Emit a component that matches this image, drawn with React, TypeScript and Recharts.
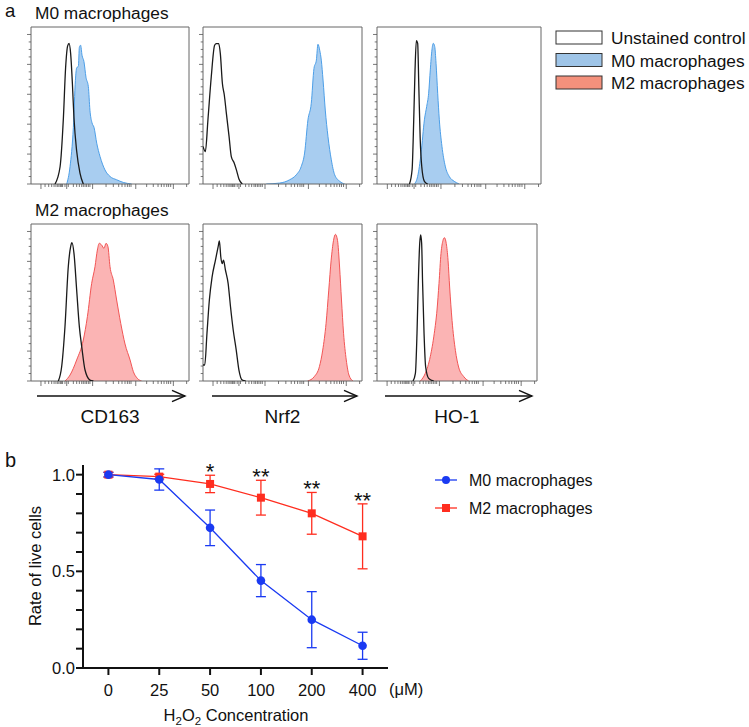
import React from 'react';
import {
  ComposedChart, Area, Line, XAxis, YAxis, ReferenceArea,
  LineChart, ErrorBar, LabelList,
} from 'recharts';

const FONT = '"Liberation Sans", Arial, Helvetica, sans-serif';

// ---- panel a: flow histograms (x = % of axis width, y = % of box height)
type Pt = [number, number];

const CD163_M0_CTRL: Pt[] = [[15.2, 0], [18.4, 11], [20.5, 42], [21.9, 74], [23.2, 88], [24.1, 89.5], [25.1, 83], [26.2, 64], [27.2, 42], [28.9, 21], [31, 7], [33.1, 0]];
const CD163_M0_STAIN: Pt[] = [[22.6, 0], [24.7, 11], [26.8, 36], [28.1, 66], [28.9, 74], [30, 75], [30.6, 87], [31.4, 88.4], [32.3, 82], [33.5, 78], [34.8, 68], [36.3, 62], [37.3, 47], [38.6, 39], [39.9, 36], [41.6, 26], [43.7, 17.5], [46.8, 9], [50, 4.8], [54.2, 2.7], [58.4, 1], [63.7, 0]];
const NRF2_M0_CTRL: Pt[] = [[0, 23.9], [1.5, 20.7], [3.1, 40.8], [5.2, 68.3], [7.3, 88.4], [8.4, 89.4], [9.9, 89.4], [10.9, 83], [12.2, 64], [13.4, 56.7], [14.7, 45], [16.4, 30.2], [17.8, 17.5], [19.5, 13.7], [21, 9], [22.6, 3.2], [24.7, 0]];
const NRF2_M0_STAIN: Pt[] = [[39.8, 0], [48.2, 0.6], [54.5, 2.7], [58.7, 5.9], [61.8, 11.2], [63.9, 19.7], [66, 40.8], [68.1, 51.4], [69.8, 73.6], [71.3, 78.9], [72.3, 89], [73.4, 85.2], [74.4, 78.9], [75.5, 66.2], [76.9, 47.1], [78.6, 30.2], [80.7, 15.4], [82.8, 5.9], [86, 1.7], [89.1, 0]];
const HO1_M0_CTRL: Pt[] = [[19.8, 0], [21.4, 9.1], [22.4, 41], [23.2, 72.9], [24, 91.3], [24.8, 89.6], [25.5, 62], [26.3, 30], [27.3, 11], [28.9, 1.7], [30.9, 0]];
const HO1_M0_STAIN: Pt[] = [[22.8, 0], [24.8, 4.9], [26.9, 19.7], [28.9, 40.9], [30.3, 49.4], [31.5, 57.8], [32.5, 72.7], [33.5, 85.4], [34.3, 89.6], [35.2, 87.5], [36, 76.9], [37, 57.8], [38, 40.9], [39.6, 24], [41.6, 11.4], [44, 4.9], [47.1, 1.7], [50.1, 0]];

const CD163_M2_CTRL: Pt[] = [[17.3, 0], [19.4, 9.1], [21.5, 34.6], [23.6, 72.8], [25.1, 85.6], [25.9, 88.1], [27.2, 81.3], [28.9, 58], [30.6, 34.6], [32.1, 21.9], [34.2, 7], [37.3, 0.6], [39.5, 0]];
const CD163_M2_STAIN: Pt[] = [[21.5, 0], [24.7, 3.8], [28.9, 13.4], [33.1, 26.1], [35.7, 41], [38.4, 62.2], [40.5, 72.8], [42, 83.4], [43.2, 87.7], [44.7, 86.6], [46.2, 84.5], [47.5, 87.7], [48.7, 85.6], [50, 72.8], [52.1, 64.3], [54.2, 51.6], [56.8, 36.7], [59.5, 23.6], [62.7, 13.4], [64.8, 5.9], [67.3, 1.7], [70, 0]];
const NRF2_M2_CTRL: Pt[] = [[0, 10.2], [1.1, 10.2], [2.5, 30.4], [4, 51.6], [5.7, 66.2], [7.8, 76.9], [9.5, 85.4], [10.3, 89.2], [11.2, 79], [12, 74.7], [12.9, 76.9], [14.1, 70.7], [15.8, 62.2], [17.3, 47.3], [19, 32.5], [20.9, 19.7], [22.6, 7], [24.7, 0.6], [26.8, 0]];
const NRF2_M2_STAIN: Pt[] = [[65.8, 0], [70, 2.8], [73.2, 9.1], [75.3, 19.7], [77.4, 36.7], [79.1, 57.9], [80.6, 77], [82.1, 89.6], [83.3, 93.4], [84.6, 89.6], [85.9, 72.6], [87.1, 51.6], [88.4, 30.4], [90.1, 13.4], [91.8, 3.8], [94.3, 0]];
const HO1_M2_CTRL: Pt[] = [[22.5, 0], [24, 4.9], [25, 30.4], [25.8, 62.2], [26.7, 87.7], [27.3, 93], [27.9, 87.7], [28.5, 62.2], [29.4, 30.4], [30.4, 9.1], [32.3, 1.7], [35.4, 0]];
const HO1_M2_STAIN: Pt[] = [[27.1, 0], [30.2, 4.9], [33.3, 15.5], [35.8, 30.4], [37.5, 45.2], [38.75, 62.2], [40, 81.3], [41.25, 89.6], [42.1, 91.3], [43.3, 87.5], [44.4, 76.9], [45.4, 59.9], [46.9, 38.6], [49, 19.5], [51, 8.9], [54.2, 2.8], [57.3, 0]];

const MARKERS = ['CD163', 'Nrf2', 'HO-1'];
const ROW_TITLES = ['M0 macrophages', 'M2 macrophages'];

const HIST_X_MAJOR = [6.3, 22.6, 39, 66.3, 90.1];
const HIST_X_MINOR = [8.9, 11.2, 13.1, 14.6, 15.8, 16.9, 17.7, 18.6, 19.4, 20, 21.5, 23.6, 26.8, 28.9, 30.6, 32.1, 33.1, 34.2, 35.2, 36.3, 37.3, 47.5, 52.1, 55.5, 57.6, 59.5, 61, 62.2, 63.3, 73.2, 77.4, 80.4, 82.5, 84.2, 85.9, 87.1, 88.4, 98.5];
const HIST_Y_MAJOR = [0, 19.05, 38.1, 57.14, 76.19, 95.24];
const HIST_Y_MINOR = [4.76, 9.52, 14.29, 23.81, 28.57, 33.33, 42.86, 47.62, 52.38, 61.9, 66.67, 71.43, 80.95, 85.71, 90.48];

const HIST_LEGEND = [
  { label: 'Unstained control', fill: '#ffffff' },
  { label: 'M0 macrophages', fill: '#9fc5e8' },
  { label: 'M2 macrophages', fill: '#f4917c' },
];

const BLUE_FILL = '#a8cdf0';
const BLUE_LINE = '#4d9fe8';
const RED_FILL = '#fbb4b4';
const RED_LINE = '#f25555';

// ---- panel b: survival after H2O2
const CONC = ['0', '25', '50', '100', '200', '400'];
const M0_MEAN = [1.0, 0.975, 0.725, 0.452, 0.25, 0.115];
const M0_SD = [0.012, 0.055, 0.092, 0.083, 0.145, 0.07];
const M2_MEAN = [1.0, 0.99, 0.952, 0.881, 0.8, 0.681];
const M2_SD = [0.012, 0.012, 0.045, 0.09, 0.108, 0.168];
const SIG = ['', '', '*', '**', '**', '**'];
const Y_TICKS = [0, 0.1, 0.2, 0.3, 0.4, 0.5, 0.6, 0.7, 0.8, 0.9, 1.0];
const Y_LABELED = [0, 0.5, 1.0];

const BLUE = '#1a3af2';
const RED = '#ff2d1f';

const SURV_LEGEND = [
  { label: 'M0 macrophages', color: BLUE, shape: 'circle' },
  { label: 'M2 macrophages', color: RED, shape: 'square' },
];

function mergeCurves(ctrl: Pt[], stain: Pt[]) {
  const rows = [
    ...ctrl.map(([x, y]) => ({ x, ctrl: y, stain: null as number | null })),
    ...stain.map(([x, y]) => ({ x, ctrl: null as number | null, stain: y })),
  ];
  return rows.sort((a, b) => a.x - b.x);
}

const XTick = (p: any) => {
  const big = HIST_X_MAJOR.includes(p.payload.value);
  return <line x1={p.x} x2={p.x} y1={p.y} y2={p.y + (big ? 5 : 3)} stroke="#555" strokeWidth={0.8} />;
};

const YTick = (p: any) => {
  const big = HIST_Y_MAJOR.includes(p.payload.value);
  return <line x1={p.x - (big ? 4 : 2.3)} x2={p.x} y1={p.y} y2={p.y} stroke="#555" strokeWidth={0.8} />;
};

function Histogram({ box, ctrl, stain, stroke, fill }: any) {
  const [x0, y0, x1, y1] = box;
  const padL = 8, padR = 6, padT = 4, padB = 10;
  return (
    <div style={{ position: 'absolute', left: x0 - padL, top: y0 - padT }}>
      <ComposedChart
        width={x1 - x0 + padL + padR}
        height={y1 - y0 + padT + padB}
        data={mergeCurves(ctrl, stain)}
        margin={{ top: padT, right: padR, bottom: 0, left: 0 }}
      >
        <XAxis type="number" dataKey="x" domain={[0, 100]} ticks={[...HIST_X_MAJOR, ...HIST_X_MINOR]}
          interval={0} height={padB} axisLine={false} tickLine={false} tickSize={0} tickMargin={0}
          tick={XTick} allowDataOverflow />
        <YAxis type="number" domain={[0, 100]} ticks={[...HIST_Y_MAJOR, ...HIST_Y_MINOR]}
          interval={0} width={padL} axisLine={false} tickLine={false} tickSize={0} tickMargin={0}
          tick={YTick} allowDataOverflow />
        <Area type="monotone" dataKey="stain" stroke={stroke} strokeWidth={1} fill={fill} fillOpacity={1}
          connectNulls dot={false} activeDot={false} isAnimationActive={false} />
        <Line type="monotone" dataKey="ctrl" stroke="#1a1a1a" strokeWidth={1.3} connectNulls
          dot={false} activeDot={false} isAnimationActive={false} />
        <ReferenceArea x1={0} x2={100} y1={0} y2={100} fill="none" stroke="#666" strokeWidth={1} ifOverflow="visible" />
      </ComposedChart>
    </div>
  );
}

const survival = CONC.map((c, i) => ({
  i,
  m0: M0_MEAN[i],
  m0Sd: M0_SD[i],
  m2: M2_MEAN[i],
  m2Sd: M2_SD[i],
  sig: SIG[i],
  sigY: SIG[i] ? M2_MEAN[i] + M2_SD[i] : null,
}));

const SquareDot = (p: any) => {
  if (p.cx == null || p.cy == null) return null;
  return <rect x={p.cx - 4} y={p.cy - 4} width={8} height={8} fill={RED} />;
};

const renderSig = (p: any) => {
  if (!p.value) return null;
  const x = p.x ?? p.viewBox?.x;
  const y = p.y ?? p.viewBox?.y;
  if (x == null || y == null) return null;
  return (
    <text x={x} y={y + 4} textAnchor="middle" fontSize={22} fontFamily={FONT} fill="#111">{p.value}</text>
  );
};

function Survival() {
  return (
    <div style={{ position: 'absolute', left: 0, top: 440 }}>
      <LineChart width={440} height={287} data={survival} margin={{ top: 25, right: 52, bottom: 0, left: 0 }}>
        <XAxis type="number" dataKey="i" domain={[-0.5, 5.5]} ticks={[0, 1, 2, 3, 4, 5]} interval={0}
          tickFormatter={(v: number) => CONC[v]} height={59}
          axisLine={{ stroke: '#111', strokeWidth: 2 }} tickLine={{ stroke: '#111', strokeWidth: 2 }}
          tickSize={7} tickMargin={9} tick={{ fill: '#111', fontSize: 16.5, fontFamily: FONT }} />
        <YAxis type="number" domain={[0, 1.05]} ticks={Y_TICKS} interval={0} width={83}
          tickFormatter={(v: number) => (Y_LABELED.includes(v) ? v.toFixed(1) : '')}
          axisLine={{ stroke: '#111', strokeWidth: 2 }} tickLine={{ stroke: '#111', strokeWidth: 2 }}
          tickSize={7} tickMargin={1} tick={{ fill: '#111', fontSize: 16.5, fontFamily: FONT }} allowDataOverflow />
        <Line type="linear" dataKey="m2" stroke={RED} strokeWidth={1.3} dot={SquareDot} activeDot={false} isAnimationActive={false}>
          <ErrorBar dataKey="m2Sd" direction="y" width={5} stroke={RED} strokeWidth={1.3} />
        </Line>
        <Line type="linear" dataKey="m0" stroke={BLUE} strokeWidth={1.3} dot={{ r: 4.3, fill: BLUE, stroke: BLUE, strokeWidth: 0 }} activeDot={false} isAnimationActive={false}>
          <ErrorBar dataKey="m0Sd" direction="y" width={5} stroke={BLUE} strokeWidth={1.3} />
        </Line>
        <Line type="linear" dataKey="sigY" stroke="none" dot={false} activeDot={false} isAnimationActive={false}>
          <LabelList dataKey="sig" content={renderSig} />
        </Line>
      </LineChart>
    </div>
  );
}

const COLS = [[31, 189], [203, 362], [377, 541]];
const COLS_BOTTOM = [[31, 189], [203, 362], [377, 537]];
const ROWS = [[27, 184], [224, 381]];
const ARROWS = [[37, 185], [212, 357], [385, 532]];

export default function App() {
  const top = [
    [CD163_M0_CTRL, CD163_M0_STAIN],
    [NRF2_M0_CTRL, NRF2_M0_STAIN],
    [HO1_M0_CTRL, HO1_M0_STAIN],
  ];
  const bottom = [
    [CD163_M2_CTRL, CD163_M2_STAIN],
    [NRF2_M2_CTRL, NRF2_M2_STAIN],
    [HO1_M2_CTRL, HO1_M2_STAIN],
  ];
  // fixed to the viewport so the body margin and any clipping of #root do not apply
  return (
    <div style={{ position: 'fixed', left: 0, top: 0, width: 749, height: 727, background: '#fff', fontFamily: FONT, overflow: 'hidden' }}>
      {top.map(([c, s], k) => (
        <Histogram key={'t' + k} box={[COLS[k][0], ROWS[0][0], COLS[k][1], ROWS[0][1]]} ctrl={c} stain={s} stroke={BLUE_LINE} fill={BLUE_FILL} />
      ))}
      {bottom.map(([c, s], k) => (
        <Histogram key={'b' + k} box={[COLS_BOTTOM[k][0], ROWS[1][0], COLS_BOTTOM[k][1], ROWS[1][1]]} ctrl={c} stain={s} stroke={RED_LINE} fill={RED_FILL} />
      ))}
      <Survival />
      <svg width={749} height={727} style={{ position: 'absolute', left: 0, top: 0, pointerEvents: 'none' }} fontFamily={FONT}>
        <text x={5} y={16.5} fontSize={18.5} fill="#111">a</text>
        <text x={5} y={467} fontSize={20} fill="#111">b</text>
        <text x={35} y={18.5} fontSize={17.3} fill="#111">{ROW_TITLES[0]}</text>
        <text x={35} y={216} fontSize={17.3} fill="#111">{ROW_TITLES[1]}</text>

        {HIST_LEGEND.map((e, k) => (
          <g key={e.label}>
            <rect x={556} y={31 + k * 22.5} width={46} height={13} fill={e.fill} stroke="#333" strokeWidth={1} />
            <text x={611} y={44 + k * 22.7} fontSize={17.3} fill="#111">{e.label}</text>
          </g>
        ))}

        {ARROWS.map(([a0, a1], k) => (
          <g key={'ar' + k} stroke="#111" strokeWidth={1.4} fill="none">
            <line x1={a0} x2={a1} y1={396} y2={396} />
            <polyline points={`${a1 - 13},${390.3} ${a1},${396} ${a1 - 13},${401.7}`} />
          </g>
        ))}
        {MARKERS.map((m, k) => (
          <text key={m} x={(COLS_BOTTOM[k][0] + COLS_BOTTOM[k][1]) / 2} y={423} fontSize={19} textAnchor="middle" fill="#111">{m}</text>
        ))}

        <text x={389} y={695} fontSize={16.5} fill="#111">(μM)</text>
        <text x={236} y={720.5} fontSize={16.5} textAnchor="middle" fill="#111">
          H<tspan fontSize={11.5} dy={4}>2</tspan><tspan dy={-4}>O</tspan><tspan fontSize={11.5} dy={4}>2</tspan><tspan dy={-4}> Concentration</tspan>
        </text>
        <text x={0} y={0} fontSize={16.5} textAnchor="middle" fill="#111" transform="translate(41,566) rotate(-90)">Rate of live cells</text>

        {SURV_LEGEND.map((e, k) => {
          const y = 480 + k * 28;
          return (
            <g key={e.label}>
              <line x1={435} x2={457} y1={y} y2={y} stroke={e.color} strokeWidth={1.3} />
              {e.shape === 'circle'
                ? <circle cx={446} cy={y} r={4} fill={e.color} />
                : <rect x={442} y={y - 4} width={8} height={8} fill={e.color} />}
              <text x={469} y={y + 5.5} fontSize={16} fill="#111">{e.label}</text>
            </g>
          );
        })}
      </svg>
    </div>
  );
}
